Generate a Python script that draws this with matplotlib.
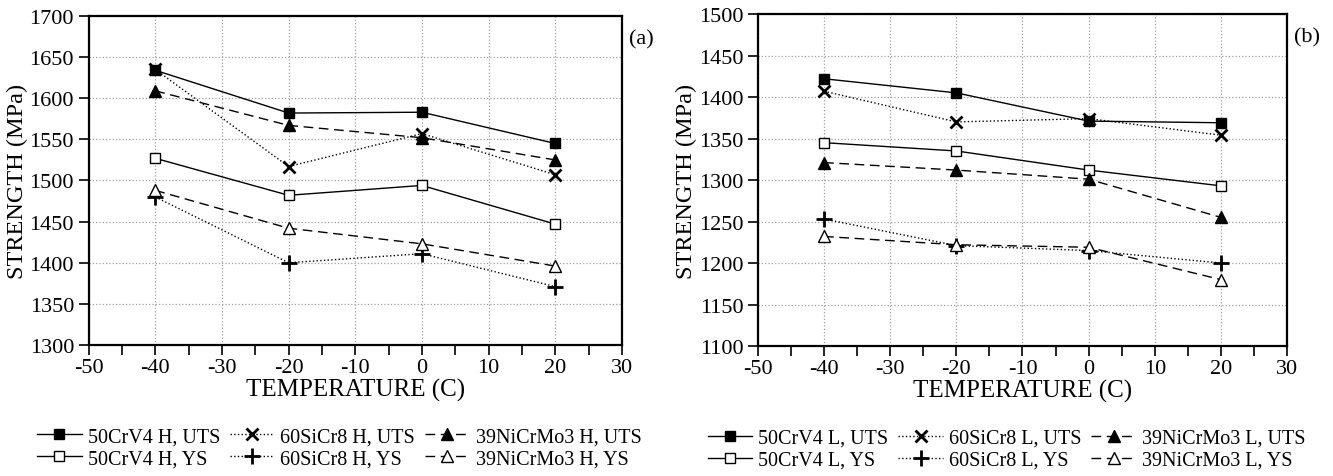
import numpy as np
import matplotlib.pyplot as plt

plt.rcParams['font.family'] = ['Liberation Serif', 'DejaVu Serif']
plt.rcParams['axes.unicode_minus'] = False

temp = [-40, -20, 0, 20]

# panel (a): H
a_50_uts = [1634, 1582, 1583, 1545]
a_60_uts = [1635, 1517, 1557, 1507]
a_39_uts = [1609, 1567, 1552, 1525]
a_50_ys = [1527, 1482, 1494, 1447]
a_60_ys = [1480, 1400, 1411, 1371]
a_39_ys = [1488, 1442, 1423, 1396]

# panel (b): L
b_50_uts = [1422, 1405, 1371, 1369]
b_60_uts = [1407, 1370, 1374, 1354]
b_39_uts = [1321, 1312, 1301, 1255]
b_50_ys = [1345, 1335, 1312, 1293]
b_60_ys = [1253, 1221, 1215, 1200]
b_39_ys = [1232, 1222, 1219, 1180]

styles = {
    '50_uts': dict(ls='-', marker='s', mfc='k', ms=7),
    '50_ys': dict(ls='-', marker='s', mfc='white', ms=7),
    '60_uts': dict(ls=':', marker='x', mfc='k', ms=8, mew=2),
    '60_ys': dict(ls=':', marker='+', mfc='k', ms=11, mew=2),
    '39_uts': dict(ls=(0, (7, 4)), marker='^', mfc='k', ms=8),
    '39_ys': dict(ls=(0, (7, 4)), marker='^', mfc='white', ms=8),
}

fig = plt.figure(figsize=(13.33, 4.77), dpi=100)
ax1 = fig.add_axes([0.0665, 0.2746, 0.4, 0.6898])
ax2 = fig.add_axes([0.5686, 0.2725, 0.3969, 0.6960])


def panel(ax, tag, data, ylim, label):
    # order so that ncol=3 legend reads UTS row then YS row
    keys = ['50_uts', '50_ys', '60_uts', '60_ys', '39_uts', '39_ys']
    names = {
        '50_uts': '50CrV4 %s, UTS', '50_ys': '50CrV4 %s, YS',
        '60_uts': '60SiCr8 %s, UTS', '60_ys': '60SiCr8 %s, YS',
        '39_uts': '39NiCrMo3 %s, UTS', '39_ys': '39NiCrMo3 %s, YS',
    }
    for k in keys:
        ax.plot(temp, data[k], color='k', lw=1, mec='k',
                label=names[k] % tag, **styles[k])
    ax.set_xlim(-50, 30)
    ax.set_ylim(*ylim)
    ax.set_xticks(np.arange(-50, 31, 10))
    ax.set_xticks(np.arange(-45, 30, 10), minor=True)
    ax.set_yticks(np.arange(ylim[0], ylim[1] + 1, 50))
    ax.grid(True, which='major', ls=':', color='#a0a0a0', lw=0.9)
    ax.tick_params(axis='both', which='both', direction='out', length=7,
                   width=1.2, labelsize=16, top=False, right=False)
    ax.tick_params(axis='x', pad=2)
    for s in ax.spines.values():
        s.set_linewidth(1.6)
    ax.set_xlabel('TEMPERATURE (C)', fontsize=18, labelpad=1)
    ax.set_ylabel('STRENGTH (MPa)', fontsize=17.5, labelpad=1)
    ax.text(1.013, 0.93, label, transform=ax.transAxes, fontsize=16,
            ha='left', va='center')
    ax.legend(loc='upper center', bbox_to_anchor=(0.47, -0.225), ncol=3,
              frameon=False, fontsize=14.5, handlelength=2.2,
              handletextpad=0.3, columnspacing=0.5, labelspacing=0.15,
              borderaxespad=0)


panel(ax1, 'H', {'50_uts': a_50_uts, '50_ys': a_50_ys, '60_uts': a_60_uts,
                 '60_ys': a_60_ys, '39_uts': a_39_uts, '39_ys': a_39_ys},
      (1300, 1700), '(a)')
panel(ax2, 'L', {'50_uts': b_50_uts, '50_ys': b_50_ys, '60_uts': b_60_uts,
                 '60_ys': b_60_ys, '39_uts': b_39_uts, '39_ys': b_39_ys},
      (1100, 1500), '(b)')

fig.savefig('out.png', dpi=100)
